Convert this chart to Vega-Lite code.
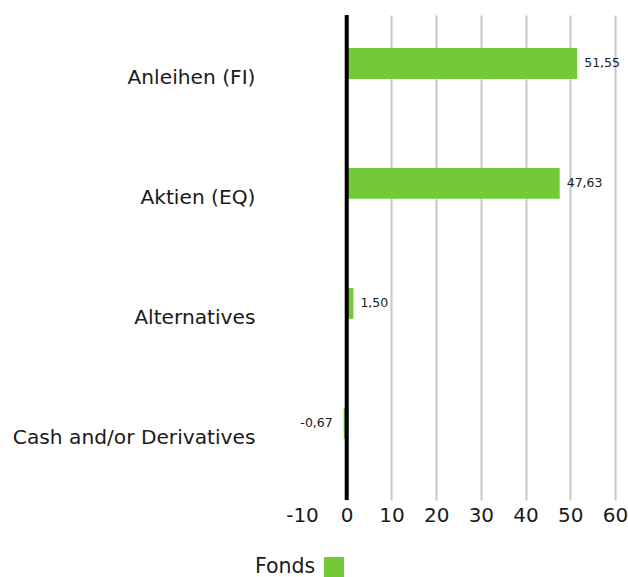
{
  "$schema": "https://vega.github.io/schema/vega-lite/v6.json",
  "autosize": {"type": "none"},
  "width": 313,
  "height": 485,
  "padding": {"left": 302, "top": 15, "right": 13, "bottom": 77},
  "background": "white",
  "config": {
    "font": "DejaVu Sans",
    "view": {"stroke": null},
    "locale": {"number": {"decimal": ",", "thousands": ".", "grouping": [3], "currency": ["", " €"], "minus": "-"}}
  },
  "data": {"values": [
    {"category": "Anleihen (FI)", "value": 51.55, "series": "Fonds"},
    {"category": "Aktien (EQ)", "value": 47.63, "series": "Fonds"},
    {"category": "Alternatives", "value": 1.50, "series": "Fonds"},
    {"category": "Cash and/or Derivatives", "value": -0.67, "series": "Fonds"}
  ]},
  "layer": [
    {
      "mark": {"type": "bar"},
      "encoding": {
        "y": {
          "field": "category", "type": "nominal", "sort": null, "title": null,
          "scale": {"paddingInner": 0.742, "paddingOuter": 0.392, "align": 0.35},
          "axis": {"ticks": false, "domain": false, "labelPadding": 47, "labelOffset": 14.5, "labelFontSize": 20.2, "labelColor": "#1a1a1a", "labelLimit": 400}
        },
        "x": {
          "field": "value", "type": "quantitative", "title": null,
          "scale": {"domain": [-10, 60], "nice": false, "zero": false},
          "axis": {"values": [-10, 0, 10, 20, 30, 40, 50, 60], "format": "d", "domain": false, "ticks": false, "labelPadding": 5, "labelFontSize": 20, "labelColor": "#1a1a1a", "gridColor": {"condition": {"test": "datum.value === -10", "value": "transparent"}, "value": "#c8c8c8"}, "gridWidth": 2, "labelFlush": false}
        },
        "color": {
          "field": "series", "type": "nominal",
          "scale": {"range": ["#74c936"]},
          "legend": {"orient": "none", "legendX": -47, "legendY": 542, "title": "Fonds", "titleOrient": "left", "titleFontSize": 20.5, "titleFontWeight": "normal", "titleColor": "#1a1a1a", "titlePadding": 8, "labelExpr": "''", "symbolType": "square", "symbolSize": 400, "symbolStrokeWidth": 0, "symbolOpacity": 1, "titleBaseline": "middle"}
        }
      }
    },
    {
      "mark": {"type": "rule", "color": "black", "strokeWidth": 4},
      "data": {"values": [{"zero": 0}]},
      "encoding": {"x": {"field": "zero", "type": "quantitative"}}
    },
    {
      "transform": [{"filter": "datum.value >= 0"}],
      "mark": {"type": "text", "align": "left", "dx": 7, "fontSize": 12.5, "color": "#1a1a1a"},
      "encoding": {
        "y": {"field": "category", "type": "nominal", "sort": null},
        "x": {"field": "value", "type": "quantitative"},
        "text": {"field": "value", "type": "quantitative", "format": ".2f"}
      }
    },
    {
      "transform": [{"filter": "datum.value < 0"}],
      "mark": {"type": "text", "align": "right", "dx": -11, "fontSize": 12.5, "color": "#1a1a1a"},
      "encoding": {
        "y": {"field": "category", "type": "nominal", "sort": null},
        "x": {"field": "value", "type": "quantitative"},
        "text": {"field": "value", "type": "quantitative", "format": ".2f"}
      }
    }
  ]
}
